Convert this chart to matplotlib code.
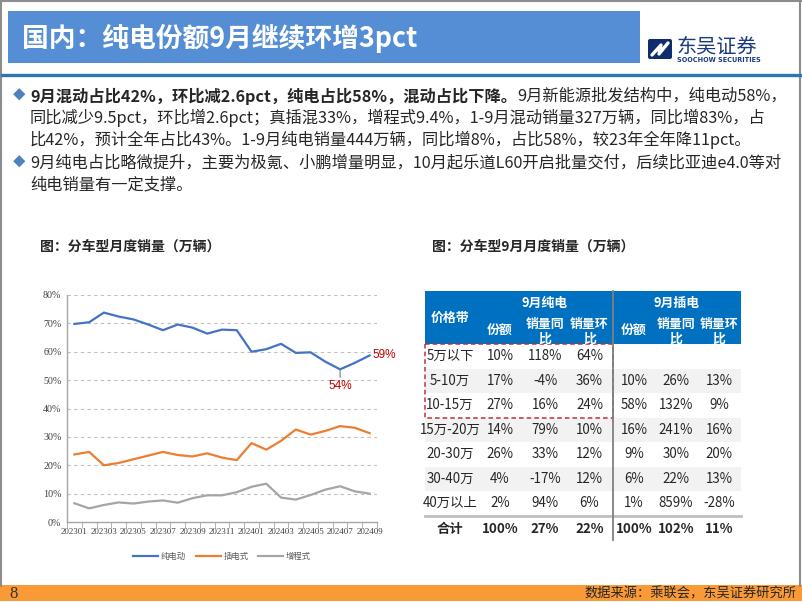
import numpy as np
import matplotlib
matplotlib.use("Agg")
import matplotlib.pyplot as plt
from matplotlib.patches import Rectangle, FancyBboxPatch

plt.rcParams['font.family'] = ['Noto Sans CJK SC', 'DejaVu Sans']

# ---------------------------------------------------------------- data
months = ['202301', '202302', '202303', '202304', '202305', '202306', '202307',
          '202308', '202309', '202310', '202311', '202312', '202401', '202402',
          '202403', '202404', '202405', '202406', '202407', '202408', '202409']
bev = [69.8, 70.4, 73.8, 72.4, 71.4, 69.6, 67.6, 69.6, 68.5, 66.4, 67.8,
       67.6, 60.0, 60.9, 62.8, 59.6, 59.8, 56.5, 53.8, 56.1, 58.7]
phev = [23.8, 24.7, 20.0, 20.8, 22.1, 23.4, 24.7, 23.6, 23.1, 24.2, 22.7,
        21.8, 27.8, 25.5, 28.6, 32.6, 30.8, 32.1, 33.8, 33.2, 31.3]
erev = [6.6, 4.8, 6.0, 6.9, 6.5, 7.2, 7.6, 6.8, 8.4, 9.4, 9.4,
        10.5, 12.4, 13.5, 8.6, 7.9, 9.5, 11.4, 12.6, 10.8, 10.0]
series_names = ['纯电动', '插电式', '增程式']

price_bands = ['5万以下', '5-10万', '10-15万', '15万-20万', '20-30万', '30-40万', '40万以上', '合计']
bev_share = ['10%', '17%', '27%', '14%', '26%', '4%', '2%', '100%']
bev_yoy = ['118%', '-4%', '16%', '79%', '33%', '-17%', '94%', '27%']
bev_mom = ['64%', '36%', '24%', '10%', '12%', '12%', '6%', '22%']
phev_share = ['', '10%', '58%', '16%', '9%', '6%', '1%', '100%']
phev_yoy = ['', '26%', '132%', '241%', '30%', '22%', '859%', '102%']
phev_mom = ['', '13%', '9%', '16%', '20%', '13%', '-28%', '11%']
sub_headers = ['份额', '销量同\n比', '销量环\n比']

title = '国内：纯电份额9月继续环增3pct'
bullet1_bold = '9月混动占比42%，环比减2.6pct，纯电占比58%，混动占比下降。'
bullet1_rest = '9月新能源批发结构中，纯电动58%，'
bullet1_more = ['同比减少9.5pct，环比增2.6pct；真插混33%，增程式9.4%，1-9月混动销量327万辆，同比增83%，占',
                '比42%，预计全年占比43%。1-9月纯电销量444万辆，同比增8%，占比58%，较23年全年降11pct。']
bullet2 = ['9月纯电占比略微提升，主要为极氪、小鹏增量明显，10月起乐道L60开启批量交付，后续比亚迪e4.0等对',
           '纯电销量有一定支撑。']
source = '数据来源：乘联会，东吴证券研究所'

# ---------------------------------------------------------------- canvas
W, H = 802, 602
fig = plt.figure(figsize=(W / 100, H / 100), dpi=100)
ov = fig.add_axes([0, 0, 1, 1])
ov.set_xlim(0, W)
ov.set_ylim(H, 0)
ov.axis('off')

txt = '#262626'

# slide frame
ov.plot([1, 1], [0, 586], color='#8c8c8c', lw=1.5)
ov.plot([800, 800], [0, 586], color='#8c8c8c', lw=1.5)
ov.plot([0, 802], [1, 1], color='#8c8c8c', lw=1.5)

# title bar
ov.add_patch(Rectangle((8, 11), 632, 52, color='#558ED5', lw=0))
ov.text(22, 38, title, color='white', fontsize=19.3, fontweight='bold', va='center')
ov.plot([2, 800], [75, 75], color='#2E75B6', lw=2.4)

# logo
ov.add_patch(FancyBboxPatch((648, 39), 24, 20, boxstyle='round,pad=0,rounding_size=2',
                            color='#0E2C6E', lw=0))
ov.plot([652, 661, 659, 668], [55, 45, 54, 43], color='white', lw=2.4, solid_capstyle='round')
ov.text(677, 47, '东吴证券', color='#1A3A7A', fontsize=14.5, va='center')
ov.text(677, 60.5, 'SOOCHOW SECURITIES', color='#1A3A7A', fontsize=4.7,
        fontweight='bold', va='center', family='DejaVu Sans')

# bullets
bfs = 11.7
ys = [96, 118, 140, 163, 185]
for y in (ys[0], ys[3]):
    ov.text(19, y, '◆', color='#4F81BD', fontsize=9, ha='center', va='center')
b = ov.text(30, ys[0], bullet1_bold, color=txt, fontsize=bfs, fontweight='bold', va='center')
ov.annotate(bullet1_rest, xy=(1, 0.5), xycoords=b, color=txt, fontsize=bfs,
            va='center', ha='left')
ov.text(30, ys[1], bullet1_more[0], color=txt, fontsize=bfs, va='center')
ov.text(30, ys[2], bullet1_more[1], color=txt, fontsize=bfs, va='center')
ov.text(30, ys[3], bullet2[0], color=txt, fontsize=bfs, va='center')
ov.text(30, ys[4], bullet2[1], color=txt, fontsize=bfs, va='center')

# captions
ov.text(40, 247, '图：分车型月度销量（万辆）', color=txt, fontsize=10, fontweight='bold', va='center')
ov.text(432, 247, '图：分车型9月月度销量（万辆）', color=txt, fontsize=10, fontweight='bold', va='center')

# footer
ov.add_patch(Rectangle((0, 585), W, 16, color='#F99A36', lw=0))
ov.text(9, 593.5, '8', color='#333333', fontsize=12, va='center', family='Liberation Serif')
ov.text(796, 593.5, source, color=txt, fontsize=9.5, va='center', ha='right')

# ---------------------------------------------------------------- line chart
ax = fig.add_axes([67 / W, 1 - 522 / H, (377 - 67) / W, (522 - 295) / H])
x = np.arange(len(months))
colors = ['#4472C4', '#ED7D31', '#A5A5A5']
for vals, c, name in zip([bev, phev, erev], colors, series_names):
    ax.plot(x, vals, color=c, lw=1.6, label=name)
ax.set_xlim(-0.45, len(months) - 0.5)
ax.set_ylim(0, 80)
ax.set_yticks(np.arange(0, 81, 10))
ax.set_yticklabels(['%d%%' % v for v in range(0, 81, 10)])
ax.set_xticks(x[::2])
ax.set_xticklabels(months[::2])
ax.set_xticks(np.arange(-0.5, len(months), 1), minor=True)
ax.tick_params(axis='x', which='major', length=0, pad=4)
ax.tick_params(axis='x', which='minor', length=4, color='#A6A6A6')
ax.tick_params(axis='y', length=0, pad=4)
for lab in ax.get_xticklabels():
    lab.set_family('Liberation Serif')
    lab.set_fontsize(6.5)
    lab.set_color('#404040')
for lab in ax.get_yticklabels():
    lab.set_family('Liberation Serif')
    lab.set_fontsize(7.2)
    lab.set_color('#404040')
for yv in range(10, 81, 10):
    ax.axhline(yv, color='#BFBFBF', lw=0.8, ls=(0, (3, 3)), zorder=0)
for s in ['top', 'right']:
    ax.spines[s].set_visible(False)
for s in ['left', 'bottom']:
    ax.spines[s].set_color('#A6A6A6')
    ax.spines[s].set_linewidth(1)
ax.set_facecolor('none')

ax.annotate('%d%%' % round(bev[-1]), xy=(x[-1], bev[-1]), xytext=(2, 0),
            textcoords='offset points', color='#C00000', fontsize=8.5,
            va='center', ha='left', family='Liberation Sans')
imin = int(np.argmin(bev))
ax.annotate('%d%%' % round(bev[imin]), xy=(x[imin], bev[imin]), xytext=(0, -12),
            textcoords='offset points', color='#C00000', fontsize=8.5,
            va='center', ha='center', family='Liberation Sans',
            arrowprops=dict(arrowstyle='-', color='#7F7F7F', lw=0.8, shrinkA=6, shrinkB=0))

ax.legend(loc='upper center', bbox_to_anchor=(0.5, -0.1), ncol=3, frameon=False,
          fontsize=6, handlelength=3, columnspacing=1.2, handletextpad=0.3,
          labelcolor='#595959')

# ---------------------------------------------------------------- table
col_edges = [425, 476, 524, 566, 613, 655, 697, 741]
head_top, head_bot = 291, 344
row_h = 24.5
hcol = '#0070C0'
ov.add_patch(Rectangle((col_edges[0], head_top), col_edges[-1] - col_edges[0],
                       head_bot - head_top, color=hcol, lw=0))
cx = [(col_edges[i] + col_edges[i + 1]) / 2 for i in range(len(col_edges) - 1)]
cx[0] = 450
hf = dict(color='white', fontsize=9.3, fontweight='bold', ha='center', va='center',
          linespacing=1.05)
ov.text(cx[0], 318, '价格带', **hf)
ov.text((col_edges[1] + col_edges[4]) / 2, 303, '9月纯电', **hf)
ov.text((col_edges[4] + col_edges[7]) / 2, 303, '9月插电', **hf)
for k, h in enumerate(sub_headers):
    ov.text(cx[1 + k], 331, h, **hf)
    ov.text(cx[4 + k], 331, h, **hf)

columns = [price_bands, bev_share, bev_yoy, bev_mom, phev_share, phev_yoy, phev_mom]
n_rows = len(price_bands)
for r in range(n_rows):
    y0 = head_bot + r * row_h
    if r % 2 == 1 and r < n_rows - 1:
        ov.add_patch(Rectangle((col_edges[0], y0), col_edges[-1] - col_edges[0], row_h,
                               color='#F2F2F2', lw=0, zorder=0))
    last = r == n_rows - 1
    for c, col in enumerate(columns):
        ov.text(cx[c], y0 + row_h / 2 + (1 if last else 0), col[r], color=txt, fontsize=9.6,
                ha='center', va='center', fontweight='bold' if last else 'normal')

total_y = head_bot + (n_rows - 1) * row_h
ov.plot([col_edges[0], col_edges[-1]], [total_y, total_y], color='#BFBFBF', lw=2)
ov.plot([col_edges[4], col_edges[4]], [head_top, 540], color='#7F7F7F', lw=1.3)
box_bot = head_bot + 3 * row_h
ov.add_patch(Rectangle((col_edges[0], head_bot), col_edges[4] - col_edges[0], box_bot - head_bot,
                       fill=False, ec='#C0303A', lw=1.1, ls=(0, (3, 2))))

fig.savefig('out.png', dpi=100)
